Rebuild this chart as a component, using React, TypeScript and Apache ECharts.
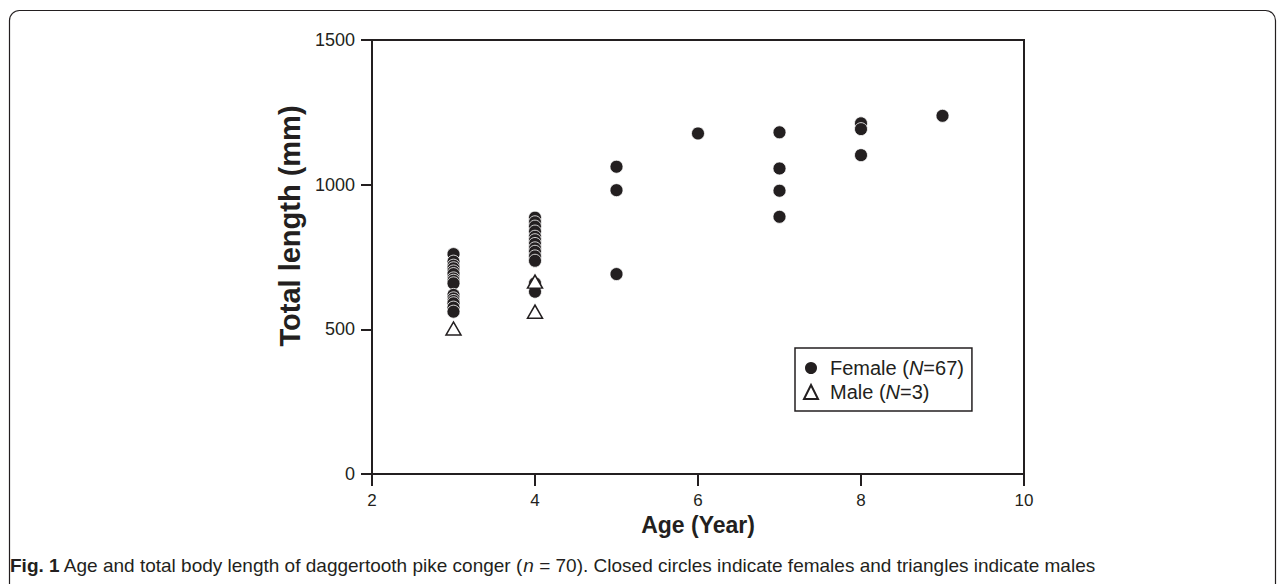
import React, { useEffect, useRef } from "react";
import * as echarts from "echarts";

// ---- data ----
const femaleAge3 = [760, 734, 720, 711, 700, 691, 676, 668, 659, 619, 607, 598, 590, 575, 561];
const femaleAge4 = [886, 870, 855, 838, 820, 808, 795, 780, 768, 752, 737, 659, 630];
const femaleAge5 = [1062, 981, 691];
const femaleAge6 = [1177];
const femaleAge7 = [1181, 1056, 979, 889];
const femaleAge8 = [1212, 1192, 1102];
const femaleAge9 = [1238];
const maleAges = [3, 4, 4];
const maleLengths = [503, 665, 561];

const xTicks = [2, 4, 6, 8, 10];
const yTicks = [0, 500, 1000, 1500];

const femaleGroups: [number, number[]][] = [
  [3, femaleAge3],
  [4, femaleAge4],
  [5, femaleAge5],
  [6, femaleAge6],
  [7, femaleAge7],
  [8, femaleAge8],
  [9, femaleAge9],
];

const INK = "#231f20";
const SANS = "Arial, Liberation Sans, sans-serif";

export default function App() {
  const ref = useRef<HTMLDivElement>(null);
  useEffect(() => {
    if (!ref.current) return;
    const chart = echarts.init(ref.current, null, { renderer: "svg" });
    const femaleData: number[][] = [];
    femaleGroups.forEach(([age, vals]) => vals.forEach((v) => femaleData.push([age, v])));
    const maleData = maleAges.map((a, i) => [a, maleLengths[i]]);

    chart.setOption({
      animation: false,
      backgroundColor: "#ffffff",
      grid: {
        left: 372,
        right: 257,
        top: 40,
        bottom: 110,
        show: true,
        borderColor: INK,
        borderWidth: 2,
      },
      xAxis: {
        type: "value",
        min: xTicks[0],
        max: xTicks[xTicks.length - 1],
        interval: 2,
        name: "Age (Year)",
        nameLocation: "middle",
        nameGap: 36,
        nameTextStyle: { fontFamily: SANS, fontWeight: "bold", fontSize: 23, color: INK },
        axisLine: { lineStyle: { color: INK, width: 2 } },
        axisTick: { inside: false, length: 12, lineStyle: { color: INK, width: 2 } },
        axisLabel: { margin: 18, fontSize: 17, color: INK, fontFamily: "Liberation Sans Narrow, Arial Narrow, Arial, sans-serif" },
        splitLine: { show: false },
      },
      yAxis: {
        type: "value",
        min: yTicks[0],
        max: yTicks[yTicks.length - 1],
        interval: 500,
        axisLine: { lineStyle: { color: INK, width: 2 } },
        axisTick: { inside: false, length: 11, lineStyle: { color: INK, width: 2 } },
        axisLabel: {
          margin: 17,
          fontSize: 18,
          color: INK,
          fontFamily: SANS,
          formatter: (v: number) => String(v),
        },
        splitLine: { show: false },
      },
      legend: {
        orient: "vertical",
        left: 795,
        top: 348,
        padding: [10, 8, 9, 8],
        itemGap: 4,
        itemWidth: 14,
        itemHeight: 14,
        borderColor: INK,
        borderWidth: 1.5,
        borderRadius: 0,
        textStyle: {
          fontSize: 20,
          color: INK,
          fontFamily: SANS,
          padding: [0, 0, 0, 7],
          rich: {
            n: { fontSize: 20, color: INK, fontFamily: SANS },
            i: { fontSize: 20, color: INK, fontStyle: "italic", fontFamily: SANS },
          },
        },
        data: ["Female", "Male"],
        formatter: (name: string) =>
          name === "Female" ? "{n|Female (}{i|N}{n|=67)}" : "{n|Male (}{i|N}{n|=3)}",
      },
      series: [
        {
          name: "Female",
          type: "scatter",
          symbol: "circle",
          symbolSize: 13,
          itemStyle: { color: INK, borderColor: "#ffffff", borderWidth: 0.8, opacity: 1 },
          data: femaleData,
          z: 2,
        },
        {
          name: "Male",
          type: "scatter",
          symbol: "triangle",
          symbolSize: [15, 13],
          itemStyle: { color: "#ffffff", borderColor: INK, borderWidth: 1.5, opacity: 1 },
          data: maleData,
          z: 3,
        },
      ],
      graphic: [
        {
          type: "rect",
          shape: { x: 9.5, y: 10.5, width: 1266, height: 700, r: 10 },
          style: { fill: "none", stroke: INK, lineWidth: 1.2 },
          silent: true,
          z: -1,
        },
        {
          type: "text",
          x: 290,
          y: 226,
          rotation: Math.PI / 2,
          style: {
            text: "Total length (mm)",
            fontSize: 29,
            fontWeight: "bold",
            fontFamily: SANS,
            fill: INK,
            align: "center",
            verticalAlign: "middle",
          },
        },
        {
          type: "text",
          left: 10,
          top: 556,
          style: {
            text: "{b|Fig. 1} Age and total body length of daggertooth pike conger ({i|n} = 70). Closed circles indicate females and triangles indicate males",
            fontSize: 19,
            fill: INK,
            fontFamily: SANS,
            rich: {
              b: { fontWeight: "bold", fontSize: 19, fill: INK, fontFamily: SANS },
              i: { fontStyle: "italic", fontSize: 19, fill: INK, fontFamily: SANS },
            },
          },
        },
      ],
    });
    return () => chart.dispose();
  }, []);
  return (
    <div
      ref={ref}
      style={{ position: "absolute", left: 0, top: 0, width: 1281, height: 584 }}
    />
  );
}
